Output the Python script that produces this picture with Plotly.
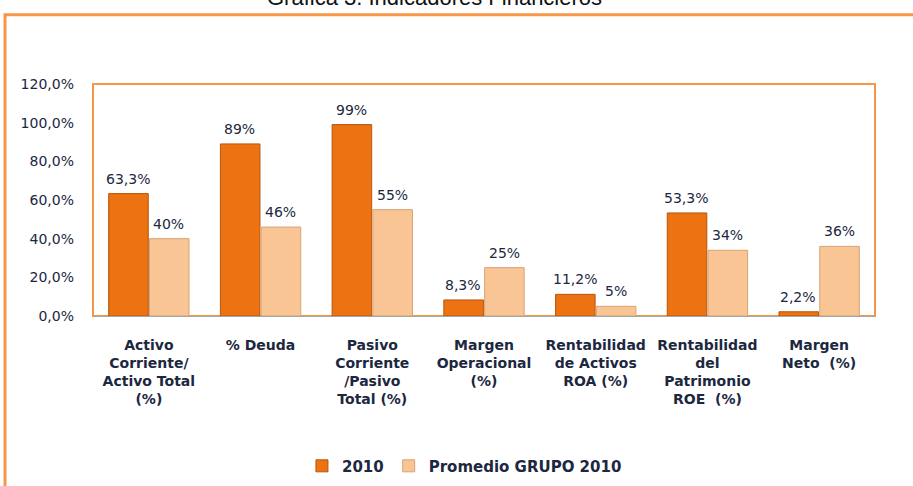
import plotly.graph_objects as go

categories = [
    "Activo<br>Corriente/<br>Activo Total<br>(%)",
    "% Deuda",
    "Pasivo<br>Corriente<br>/Pasivo<br>Total (%)",
    "Margen<br>Operacional<br>(%)",
    "Rentabilidad<br>de Activos<br>ROA (%)",
    "Rentabilidad<br>del<br>Patrimonio<br>ROE  (%)",
    "Margen<br>Neto  (%)",
]
series_2010 = [63.3, 89, 99, 8.3, 11.2, 53.3, 2.2]
labels_2010 = ["63,3%", "89%", "99%", "8,3%", "11,2%", "53,3%", "2,2%"]
series_grupo = [40, 46, 55, 25, 5, 34, 36]
labels_grupo = ["40%", "46%", "55%", "25%", "5%", "34%", "36%"]
ytick_vals = [0, 20, 40, 60, 80, 100, 120]
ytick_text = ["0,0%", "20,0%", "40,0%", "60,0%", "80,0%", "100,0%", "120,0%"]
title_text = "Gráfica 3. Indicadores Financieros"

navy = "#1C2740"
orange_frame = "#F79646"
font_fam = "DejaVu Sans"

fig = go.Figure()
fig.add_trace(go.Bar(
    x=categories, y=series_2010, name="2010",
    marker=dict(color="#EC7212", line=dict(color="#B5560C", width=1)),
))
fig.add_trace(go.Bar(
    x=categories, y=series_grupo, name="Promedio GRUPO 2010",
    marker=dict(color="#FAC594", line=dict(color="#D9A272", width=1)),
))

annotations = []
for c, v, t in zip(categories, series_2010, labels_2010):
    annotations.append(dict(x=c, y=v, text=t, xref="x", yref="y", showarrow=False,
                            xshift=-21, yanchor="bottom", yshift=5,
                            font=dict(family=font_fam, size=14, color=navy)))
for c, v, t in zip(categories, series_grupo, labels_grupo):
    annotations.append(dict(x=c, y=v, text=t, xref="x", yref="y", showarrow=False,
                            xshift=20, yanchor="bottom", yshift=5,
                            font=dict(family=font_fam, size=14, color=navy)))
# chart title (partly cut by the top edge, as in the source)
annotations.append(dict(text=title_text, xref="paper", yref="paper", x=0.437, y=1.372,
                        xanchor="center", yanchor="middle", showarrow=False,
                        font=dict(family="Liberation Sans", size=22, color="#111111")))

shapes = [
    # outer frame of the chart object
    dict(type="rect", xref="paper", yref="paper", x0=-0.1125, x1=1.3, y0=-1.5, y1=1.298,
         line=dict(color=orange_frame, width=3), fillcolor="rgba(0,0,0,0)", layer="below"),
    # plot area border
    dict(type="rect", xref="paper", yref="paper", x0=0, x1=1, y0=0, y1=1,
         line=dict(color=orange_frame, width=2), fillcolor="rgba(0,0,0,0)", layer="below"),
]

fig.update_layout(
    width=913, height=486,
    margin=dict(l=93, r=38, t=84, b=170, autoexpand=False),
    paper_bgcolor="white", plot_bgcolor="white",
    barmode="group", bargap=0.27, bargroupgap=0.03,
    xaxis=dict(showgrid=False, showline=True, linecolor="#A6A6A6", linewidth=1,
               ticks="", ticklabelstandoff=16, automargin=False,
               tickfont=dict(family=font_fam, size=14, color=navy, weight="bold")),
    yaxis=dict(range=[0, 120], tickvals=ytick_vals, ticktext=ytick_text, showgrid=False,
               showline=False, ticks="", zeroline=False, ticklabelstandoff=18,
               automargin=False,
               tickfont=dict(family=font_fam, size=14, color=navy)),
    legend=dict(orientation="h", x=0.475, xanchor="center",
                yref="container", y=0.041, yanchor="middle",
                font=dict(family=font_fam, size=15, color=navy, weight="bold"),
                traceorder="normal"),
    annotations=annotations,
    shapes=shapes,
)

fig.write_html("out.html", config={"displayModeBar": False},
               post_script="document.body.style.margin='0';")
